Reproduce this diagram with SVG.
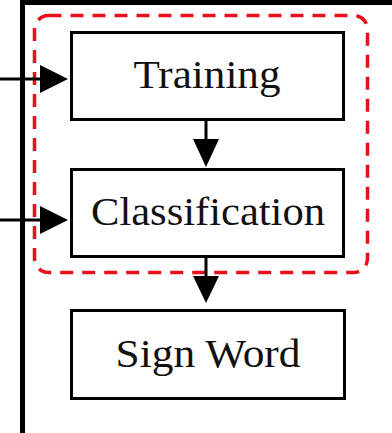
<svg xmlns="http://www.w3.org/2000/svg" width="392" height="433" viewBox="0 0 392 433">
  <style>
    .box { fill: #fff; stroke: #000; stroke-width: 3; }
    .label { font-family: "Liberation Serif", "DejaVu Serif", serif; font-size: 41px; fill: #111; text-anchor: middle; }
    .wire { stroke: #000; stroke-width: 3; fill: none; }
    .frame { stroke: #000; stroke-width: 5; fill: none; }
    .group { fill: none; stroke: #e8101a; stroke-width: 3.5; stroke-dasharray: 13 9; }
  </style>
  <rect width="392" height="433" fill="#fff"/>

  <!-- outer frame -->
  <path class="frame" d="M22.5,433 V2.5 H392"/>

  <!-- dashed grouping of training + classification -->
  <rect class="group" x="34.5" y="15.5" width="333" height="257" rx="14"/>

  <g id="connectors">
    <line class="wire" x1="0" y1="79" x2="41" y2="79"/>
    <path d="M40,65 L68,79 L40,93 Z" fill="#000"/>
    <line class="wire" x1="0" y1="220" x2="41" y2="220"/>
    <path d="M40,206 L68,220 L40,234 Z" fill="#000"/>
    <line class="wire" x1="206" y1="120" x2="206" y2="140"/>
    <path d="M193,139 L206,167 L219,139 Z" fill="#000"/>
    <line class="wire" x1="206" y1="257" x2="206" y2="277"/>
    <path d="M193,276 L206,303 L219,276 Z" fill="#000"/>
  </g>

  <g id="training">
    <rect class="box" x="71.5" y="32.5" width="272" height="87"/>
    <text class="label" x="207" y="88" textLength="147" lengthAdjust="spacingAndGlyphs">Training</text>
  </g>
  <g id="classification">
    <rect class="box" x="71.5" y="169.5" width="272" height="87"/>
    <text class="label" x="208" y="225" textLength="234" lengthAdjust="spacingAndGlyphs">Classification</text>
  </g>
  <g id="sign-word">
    <rect class="box" x="71.5" y="310.5" width="273" height="88"/>
    <text class="label" x="208" y="367" textLength="185" lengthAdjust="spacingAndGlyphs">Sign Word</text>
  </g>
</svg>
